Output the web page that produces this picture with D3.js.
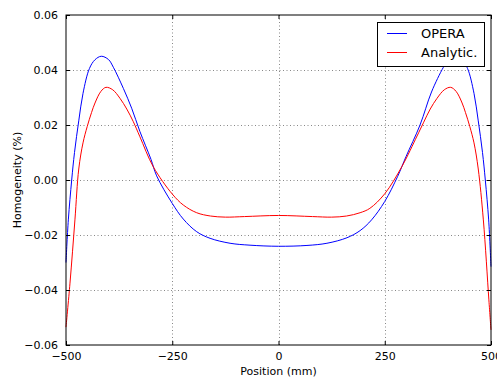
<!DOCTYPE html>
<html>
<head>
<meta charset="utf-8">
<script src="https://cdn.jsdelivr.net/npm/d3@7"></script>
<style>
  body { margin: 0; background: #fff; }
  text { font-family: "DejaVu Sans", sans-serif; fill: #000; }
</style>
</head>
<body>
<script>
// OPERA curve (position mm, homogeneity %)
let operaPos = [-500, -494.5, -486.6, -480, -470, -460, -445, -432, -417, -400, -388.6, -365, -345.5, -326, -300, -286.7, -250, -224, -192.5, -161, -114, -67, 0,
    67, 114, 161, 192, 219, 250, 280, 300, 333, 360, 388, 400, 417, 432, 445, 460, 470, 480, 486.6, 494.5, 500];
let operaVal = [-0.030, -0.0145, 0.0, 0.0100, 0.0215, 0.0315, 0.0405, 0.0437, 0.0450, 0.0438, 0.0410, 0.0333, 0.0261, 0.0176, 0.0075, 0.0015, -0.0085, -0.0142, -0.0188, -0.0212, -0.0230, -0.0237, -0.0241,
    -0.0238, -0.0230, -0.0210, -0.0184, -0.0145, -0.0078, 0.0012, 0.0085, 0.0200, 0.0320, 0.0410, 0.0438, 0.0450, 0.0437, 0.0405, 0.0315, 0.0215, 0.0100, 0.0, -0.0145, -0.0315];
// Analytic curve
let analyticPos = [-500, -490.6, -479, -470, -460, -450, -440, -431.8, -418, -406, -390, -373, -357, -341.6, -326, -294.6, -250, -224, -192.5, -160, -125, -80, 0,
    80, 125, 160, 192, 215, 250, 290, 326, 341, 357, 373, 390, 405, 418, 432, 440, 450, 460, 470, 482, 495, 500];
let analyticVal = [-0.0535, -0.0375, -0.0145, 0.0040, 0.0135, 0.0195, 0.0245, 0.0280, 0.0322, 0.0337, 0.0328, 0.0297, 0.0258, 0.0212, 0.0157, 0.0048, -0.0051, -0.0091, -0.0119, -0.0131, -0.0135, -0.0133, -0.0129,
    -0.0133, -0.0135, -0.0131, -0.0119, -0.0103, -0.0050, 0.0048, 0.0160, 0.0208, 0.0258, 0.0297, 0.0328, 0.0337, 0.0322, 0.0280, 0.0245, 0.0195, 0.0135, 0.0040, -0.0145, -0.0436, -0.0545];
let xTicks = [-500, -250, 0, 250, 500];
let yTicks = [-0.06, -0.04, -0.02, 0.00, 0.02, 0.04, 0.06];
let seriesNames = ["OPERA", "Analytic."];
let seriesColors = ["#0000ff", "#ff0000"];

let width = 497,
    height = 381;
let mLeft = 66, mRight = 491, mTop = 15, mBottom = 345;

let svg = d3.select("body").append("svg")
    .attr("width", width).attr("height", height);

let xScale = d3.scaleLinear().domain([-500, 500]).range([mLeft, mRight]);
let yScale = d3.scaleLinear().domain([-0.06, 0.06]).range([mBottom, mTop]);

// grid
let grid = svg.append("g")
    .attr("stroke", "#888").attr("stroke-width", 1).attr("stroke-dasharray", "1,2.5");
grid.selectAll(".gx").data(xTicks.slice(1, -1)).enter().append("line")
    .attr("x1", (d) => Math.round(xScale(d)) + 0.5).attr("x2", (d) => Math.round(xScale(d)) + 0.5)
    .attr("y1", mTop).attr("y2", mBottom);
grid.selectAll(".gy").data(yTicks.slice(1, -1)).enter().append("line")
    .attr("y1", (d) => Math.round(yScale(d)) + 0.5).attr("y2", (d) => Math.round(yScale(d)) + 0.5)
    .attr("x1", mLeft).attr("x2", mRight);

// curves
let line = d3.line()
    .x((d) => xScale(d[0]))
    .y((d) => yScale(d[1]))
    .curve(d3.curveCatmullRom.alpha(0.5));
let series = [[operaPos, operaVal], [analyticPos, analyticVal]];
series.forEach((s, i) => {
    svg.append("path")
        .datum(s[0].map((p, j) => [p, s[1][j]]))
        .attr("fill", "none")
        .attr("stroke", seriesColors[i])
        .attr("stroke-width", 1)
        .attr("d", line);
});

// axes (ticks inward, on all sides)
let fmtY = (d) => d3.format(".2f")(d).replace("-", "\u2212");
let fmtX = (d) => String(d).replace("-", "\u2212");
svg.append("g").attr("transform", "translate(0," + mBottom + ")")
    .call(d3.axisBottom(xScale).tickValues(xTicks).tickSize(-4).tickPadding(7).tickFormat(fmtX));
svg.append("g").attr("transform", "translate(0," + mTop + ")")
    .call(d3.axisTop(xScale).tickValues(xTicks).tickSize(-4).tickFormat(""));
svg.append("g").attr("transform", "translate(" + mLeft + ",0)")
    .call(d3.axisLeft(yScale).tickValues(yTicks).tickSize(-4).tickPadding(8).tickFormat(fmtY));
svg.append("g").attr("transform", "translate(" + mRight + ",0)")
    .call(d3.axisRight(yScale).tickValues(yTicks).tickSize(-4).tickFormat(""));
svg.selectAll(".domain").remove();
svg.selectAll(".tick text").attr("font-size", 11).attr("font-family", "DejaVu Sans").attr("fill", "#000");
svg.selectAll(".tick line").attr("stroke", "#000");

svg.append("rect")
    .attr("x", mLeft).attr("y", mTop)
    .attr("width", mRight - mLeft).attr("height", mBottom - mTop)
    .attr("fill", "none").attr("stroke", "#000").attr("stroke-width", 1);

// labels
svg.append("text")
    .attr("x", (mLeft + mRight) / 2).attr("y", 375)
    .attr("text-anchor", "middle").attr("font-size", 11)
    .text("Position (mm)");
svg.append("text")
    .attr("transform", "translate(21," + (mTop + mBottom) / 2 + ") rotate(-90)")
    .attr("text-anchor", "middle").attr("font-size", 11)
    .text("Homogeneity (%)");

// legend
let legend = svg.append("g");
legend.append("rect")
    .attr("x", 377.5).attr("y", 22.5).attr("width", 107).attr("height", 44)
    .attr("fill", "#fff").attr("stroke", "#000").attr("stroke-width", 1);
seriesNames.forEach((name, i) => {
    let y = 33.5 + i * 19;
    legend.append("line")
        .attr("x1", 387).attr("x2", 407).attr("y1", y).attr("y2", y)
        .attr("stroke", seriesColors[i]).attr("stroke-width", 1);
    legend.append("text")
        .attr("x", 421).attr("y", y + 4.5)
        .attr("font-size", 13)
        .text(name);
});
</script>
</body>
</html>
